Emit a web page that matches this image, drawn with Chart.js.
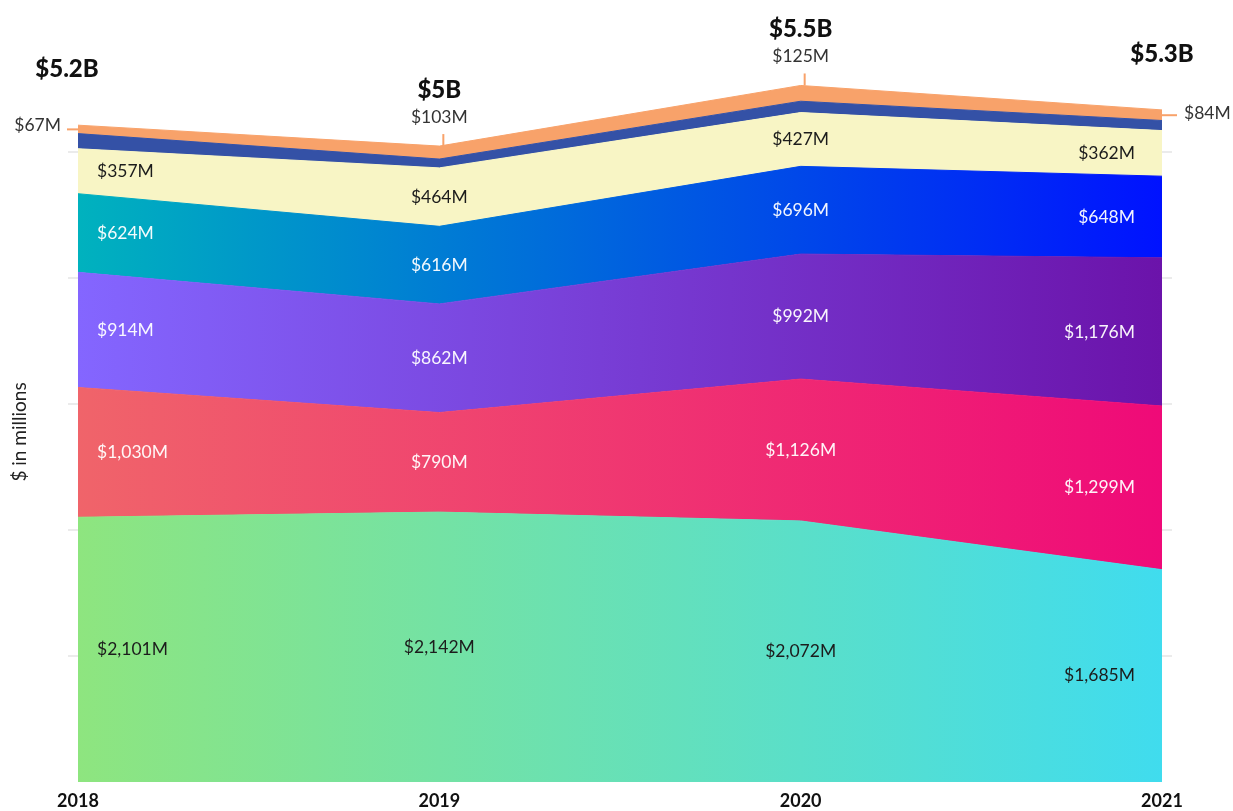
<!DOCTYPE html>
<html><head><meta charset="utf-8">
<script src="https://cdn.jsdelivr.net/npm/chart.js@4.4.0/dist/chart.umd.min.js"></script>
<style>html,body{margin:0;padding:0;background:#fff;} #wrap{width:1233px;height:811px;position:relative;}</style>
</head><body><div id="wrap"><canvas id="c"></canvas></div>
<script>
const years = ['2018', '2019', '2020', '2021'];
const seriesA = [2101, 2142, 2072, 1685];
const seriesB = [1030, 790, 1126, 1299];
const seriesC = [914, 862, 992, 1176];
const seriesD = [624, 616, 696, 648];
const seriesE = [357, 464, 427, 362];
const seriesF = [120, 70, 90, 80];   // unlabeled layer
const seriesG = [67, 103, 125, 84];
const totalLabels = ['$5.2B', '$5B', '$5.5B', '$5.3B'];
const yTicks = [0, 1000, 2000, 3000, 4000, 5000, 6000];

const FONT = 'Lato, "Open Sans", sans-serif';
const layers = [seriesA, seriesB, seriesC, seriesD, seriesE, seriesF, seriesG];
const fills = [
  ['#8ee57f', '#40dcee'],
  ['#f0646a', '#ef0a78'],
  ['#8466ff', '#6b13aa'],
  ['#00b2be', '#0012ff'],
  ['#f8f5c5', '#f8f5c5'],
  ['#3451a6', '#3451a6'],
  ['#f8a26a', '#f8a26a']
];
const labelColors = ['#1c1c1c', 'rgba(255,255,255,0.95)', 'rgba(255,255,255,0.95)', 'rgba(255,255,255,0.95)', '#1c1c1c', null, '#333'];
const fmt = v => '$' + v.toLocaleString('en-US') + 'M';

function grad(i) {
  return function (ctx) {
    const ch = ctx.chart, ca = ch.chartArea;
    if (!ca) return fills[i][0];
    const g = ch.ctx.createLinearGradient(ca.left, 0, ca.right, 0);
    g.addColorStop(0, fills[i][0]);
    g.addColorStop(1, fills[i][1]);
    return g;
  };
}

const datasets = layers.map((d, i) => ({
  data: d,
  fill: i === 0 ? 'origin' : '-1',
  backgroundColor: grad(i),
  borderColor: grad(i),
  borderWidth: 1,
  pointRadius: 0,
  pointHoverRadius: 0,
  tension: 0
}));

const labelPlugin = {
  id: 'labelPlugin',
  beforeDatasetsDraw(chart) {
    const { ctx, chartArea: ca, scales: { y } } = chart;
    ctx.save();
    ctx.strokeStyle = '#ebebeb';
    ctx.lineWidth = 2;
    yTicks.slice(1, -1).forEach(v => {
      const py = Math.round(y.getPixelForValue(v));
      ctx.beginPath(); ctx.moveTo(ca.left - 10, py); ctx.lineTo(ca.right + 10, py); ctx.stroke();
    });
    ctx.restore();
  },
  afterDraw(chart) {
    const { ctx, chartArea: ca, scales: { x, y } } = chart;
    const n = years.length;
    const LBL = '17.5px ' + FONT;
    ctx.save();
    ctx.textBaseline = 'middle';
    ctx.font = LBL;
    for (let j = 0; j < n; j++) {
      const px = x.getPixelForValue(j);
      let cum = 0;
      for (let i = 0; i < layers.length; i++) {
        const v = layers[i][j];
        const lo = y.getPixelForValue(cum), hi = y.getPixelForValue(cum + v);
        cum += v;
        if (i < 5) {
          const cy = (lo + hi) / 2;
          ctx.fillStyle = labelColors[i];
          if (j === 0) { ctx.textAlign = 'left'; ctx.fillText(fmt(v), px + 19, cy); }
          else if (j === n - 1) { ctx.textAlign = 'right'; ctx.fillText(fmt(v), px - 27, cy); }
          else { ctx.textAlign = 'center'; ctx.fillText(fmt(v), px, cy); }
        } else if (i === 6) {
          const mid = (lo + hi) / 2;
          ctx.strokeStyle = '#f8a26a'; ctx.lineWidth = 2;
          ctx.fillStyle = labelColors[i];
          ctx.beginPath();
          if (j === 0) {
            ctx.moveTo(px - 11, mid); ctx.lineTo(px, mid); ctx.stroke();
            ctx.textAlign = 'right'; ctx.fillText(fmt(v), px - 17, mid - 4);
          } else if (j === n - 1) {
            ctx.moveTo(px, mid); ctx.lineTo(px + 15, mid); ctx.stroke();
            ctx.textAlign = 'left'; ctx.fillText(fmt(v), px + 22, mid - 2);
          } else {
            ctx.moveTo(px + 4, hi - 12); ctx.lineTo(px + 4, hi); ctx.stroke();
            ctx.textAlign = 'center'; ctx.fillText(fmt(v), px, hi - 29);
          }
        }
      }
      const top = y.getPixelForValue(cum);
      ctx.font = '900 24px ' + FONT;
      ctx.fillStyle = '#111';
      ctx.textAlign = 'center';
      ctx.fillText(totalLabels[j], j === 0 ? px - 11 : px, top - 56);
      ctx.font = LBL;
    }
    // y axis title
    ctx.translate(20, (ca.top + ca.bottom) / 2 + 28);
    ctx.rotate(-Math.PI / 2);
    ctx.textAlign = 'center';
    ctx.fillStyle = '#222';
    ctx.font = '19px ' + FONT;
    ctx.fillText('$ in millions', 0, 0);
    ctx.restore();
  }
};

new Chart(document.getElementById('c'), {
  type: 'line',
  data: { labels: years, datasets },
  options: {
    responsive: true,
    maintainAspectRatio: false,
    animation: false,
    layout: { padding: { top: 26, right: 71, left: 0, bottom: 0 } },
    plugins: { legend: { display: false }, tooltip: { enabled: false } },
    scales: {
      x: {
        offset: false,
        z: 1,
        grid: {
          color: c => (c.index === 1 || c.index === 2) ? 'rgba(255,255,255,0.5)' : 'rgba(0,0,0,0)',
          lineWidth: 1.5,
          drawTicks: false
        },
        border: { display: false },
        ticks: { font: { family: FONT, size: 18, weight: 'bold' }, color: '#111', padding: 8, maxRotation: 0, autoSkip: false },
        afterFit(s) { s.height = 29; }
      },
      y: {
        stacked: true,
        min: 0, max: 6000,
        ticks: { display: false, stepSize: 1000 },
        grid: { display: false },
        border: { display: false },
        afterFit(s) { s.width = 78; }
      }
    }
  },
  plugins: [labelPlugin]
});
</script></body></html>
